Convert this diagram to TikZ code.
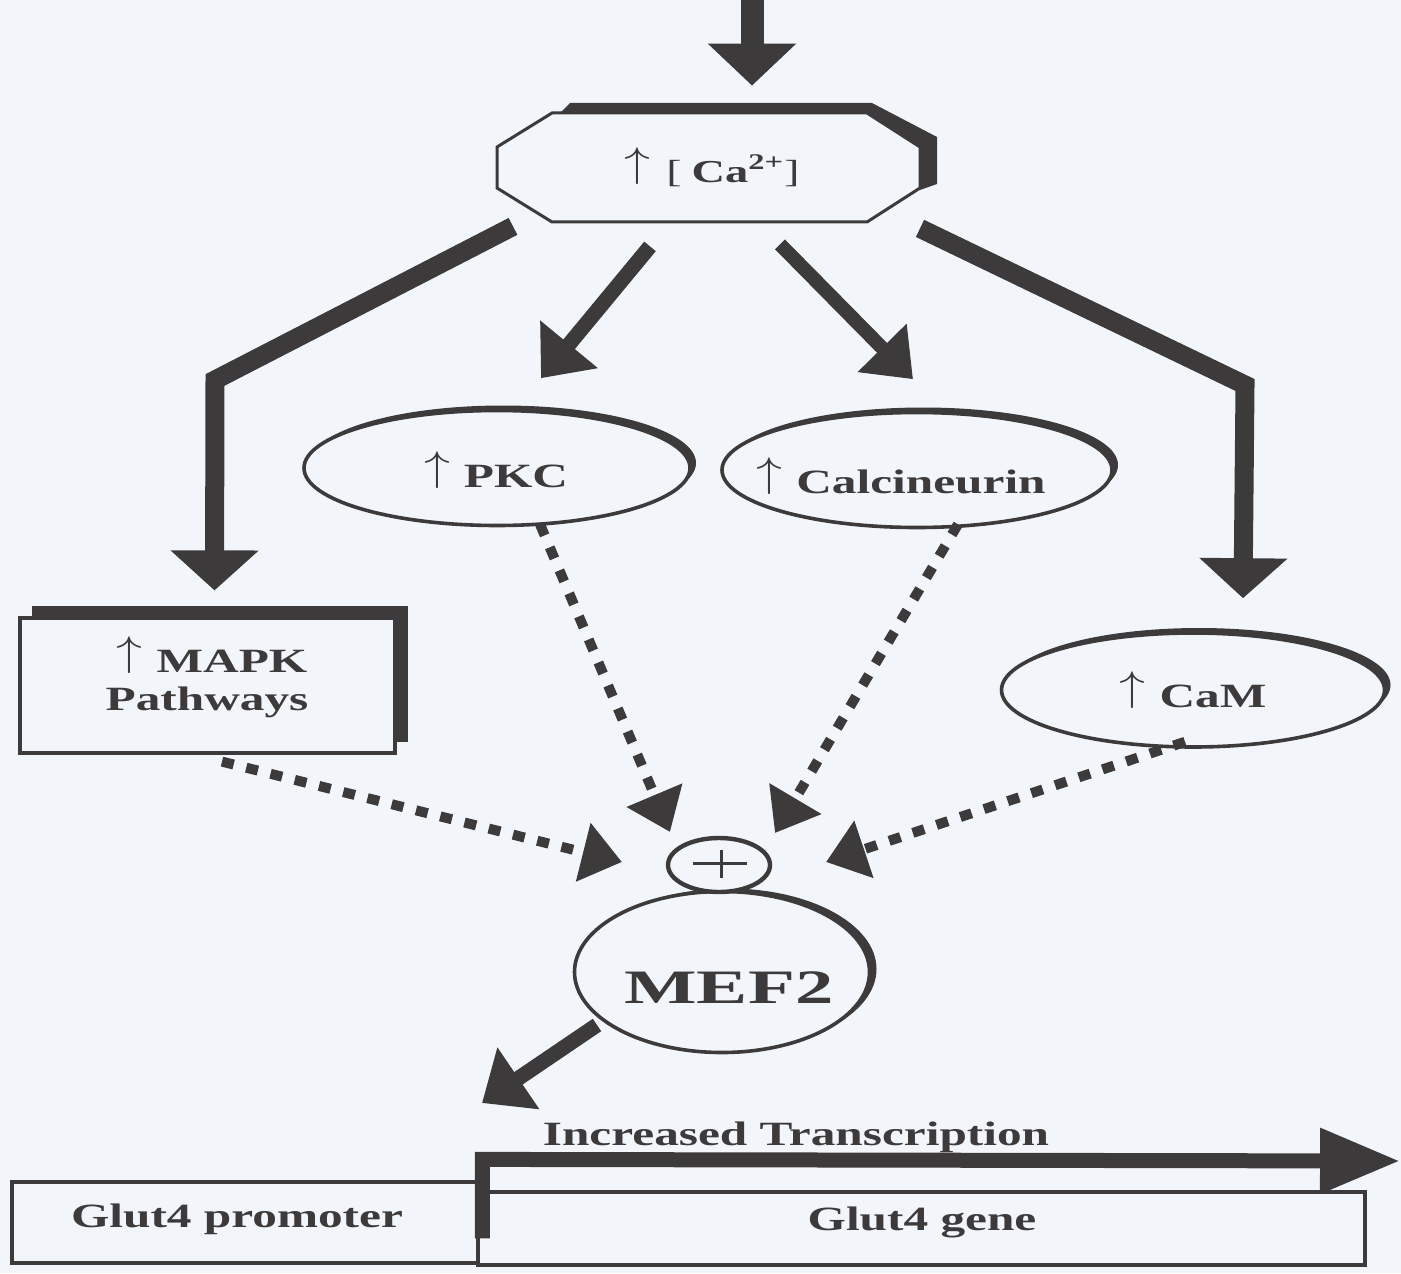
\documentclass[tikz,border=0pt]{standalone}
\usepackage{fontspec}
\setmainfont{Liberation Serif}[FakeStretch=1.45]
\newfontfamily\meffont{Liberation Serif}[FakeStretch=1.6]
\usetikzlibrary{arrows.meta,calc,shapes.geometric}
\definecolor{bg}{RGB}{242,246,251}
\definecolor{ink}{RGB}{60,58,58}
\newcommand\upar[1]{\raisebox{#1}{\scalebox{1.25}[1]{\fontsize{20}{20}\selectfont$\uparrow$}}}
\begin{document}
\begin{tikzpicture}[x=0.5pt,y=-0.5pt,
  lab/.style={text=ink,font=\fontsize{17}{18}\selectfont\bfseries,align=center,inner sep=0pt},
  oval/.style={ellipse,draw=ink,line width=1.8pt,fill=bg,inner sep=0pt},
  box/.style={rectangle,draw=ink,line width=1.6pt,fill=bg,inner sep=0pt},
  bigarrow/.style={draw=ink,line width=9.5pt,line join=miter,-{Triangle[length=20pt,width=43pt]}},
  medarrow/.style={draw=ink,line width=7.5pt,-{Triangle[length=22pt,width=36pt]}},
  dotarrow/.style={draw=ink,line width=5pt,dash pattern=on 6pt off 6.5pt,-{Triangle[length=20pt,width=29pt]}}]
\fill[bg] (0,0) rectangle (1401,1273);
\useasboundingbox (0,0) rectangle (1401,1273);

% ---- Ca box (octagon with shadow)
\fill[ink] (570,103) -- (872,103) -- (937,137) -- (937,184) -- (920,190) -- (920,147) -- (867,113) -- (560,113) -- cycle;
\node[inner sep=0pt,minimum width=211.5pt,minimum height=54.5pt] (ca) at (708.5,167.5) {};
\draw[ink,line width=1.5pt,fill=bg] (552,113) -- (867,113) -- (920,147) -- (920,188) -- (867,222) -- (552,222) -- (497,188) -- (497,147) -- cycle;
\node[lab,font=\fontsize{16}{16}\selectfont\bfseries] (cat) at (712,167) {\upar{3pt}\hspace{8pt}{\mdseries[}\hspace{5pt}Ca\textsuperscript{2+}{\mdseries]}};

% ---- PKC
\fill[ink] (503,463) ellipse [x radius=96.5pt, y radius=28.75pt];
\node[oval,minimum width=193pt,minimum height=57.5pt] (pkc) at (497,468) {};
\node[lab] (pkct) at (496,470) {\upar{3.5pt}\hspace{7pt}PKC};

% ---- Calcineurin
\fill[ink] (923,465) ellipse [x radius=97.5pt, y radius=28.75pt];
\node[oval,minimum width=195pt,minimum height=57.5pt] (calc) at (917,470) {};
\node[lab] (calct) at (901,476) {\upar{3.5pt}\hspace{7pt}Calcineurin};

% ---- CaM
\fill[ink] (1199,685) ellipse [x radius=95.75pt, y radius=28.5pt];
\node[oval,minimum width=191.5pt,minimum height=57pt] (cam) at (1193,690) {};
\node[lab] (camt) at (1193,690) {\upar{3.5pt}\hspace{7pt}CaM};

% ---- MAPK
\fill[ink] (32,606) rectangle (408,742);
\node[box,minimum width=187.5pt,minimum height=67.5pt] (mapk) at (207.5,685.5) {};
\node[lab] (mapkt) at (212,655) {\upar{3.5pt}\hspace{7pt}MAPK};
\node[lab] (mapkt2) at (207,702) {Pathways};

% ---- MEF2 and plus
\fill[ink] (729,969) ellipse [x radius=73.75pt, y radius=40.25pt];
\node[oval,minimum width=147.5pt,minimum height=80.5pt] (mef) at (722,972) {};
\node[text=ink,inner sep=0pt,font=\meffont\fontsize{24}{24}\selectfont\bfseries] (meft) at (729,988) {MEF2};
\node[ellipse,draw=ink,line width=2.2pt,fill=bg,minimum width=51pt,minimum height=27pt,inner sep=0pt] (plus) at (719,865) {};
\draw[ink,line width=1.5pt] ($(plus.center)+(-26,-2)$) -- ($(plus.center)+(28,-2)$);
\draw[ink,line width=1.5pt] ($(plus.center)+(2,-15)$) -- ($(plus.center)+(2,13)$);

% ---- bottom boxes
\node[box,minimum width=443.5pt,minimum height=36.5pt] (gene) at (921.5,1228.5) {};
\node[box,minimum width=233pt,minimum height=40.5pt] (prom) at (245,1222.5) {};
\node[lab] (promt) at (237,1219) {Glut4 promoter};
\node[lab] (genet) at (922,1222) {Glut4 gene};
\node[lab] (incr) at (796,1137) {Increased Transcription};

% ---- arrows from the top
\coordinate (top) at (752,-5);
\draw[ink,line width=11.5pt,-{Triangle[length=21pt,width=43pt]}] (top) -- ($(ca.north)+(43.5,-27)$);

\draw[bigarrow] ($(ca.south)+(-195.5,4)$) -- (215,380) -- ($(mapk.north)+(7,-26)$);
\draw[bigarrow] ($(ca.south)+(211.5,6)$) -- (1245,385) -- ($(cam.north)+(50,-33)$);
\draw[medarrow] ($(ca.south)+(-58.5,24)$) -- ($(pkc.north)+(44,-30.5)$);
\draw[ink,line width=7pt,-{Triangle[length=22pt,width=33pt]}] ($(ca.south)+(71.5,22)$) -- ($(calc.north)+(-4,-31.5)$);

% ---- dotted arrows to MEF2
\draw[dotarrow] ($(mapk.south)+(14.5,7)$) -- ($(plus.center)+(-97,-3)$);
\draw[dotarrow] ($(pkc.south)+(43,-3)$) -- ($(plus.center)+(-49,-33)$);
\draw[dotarrow] ($(calc.south)+(41,-5)$) -- ($(plus.center)+(56,-32)$);
\draw[dotarrow] ($(cam.south)+(-8,-7)$) -- ($(plus.center)+(107,-3)$);

% ---- MEF2 output
\coordinate (mefout) at (482,1103);
\draw[medarrow] ($(mef.center)+(-125,53)$) -- (mefout);

% ---- transcription arrow
\coordinate (tx) at (1400,1161);
\draw[ink,line width=7.5pt,line join=miter,-{Triangle[length=40pt,width=31pt]}] ($(gene.north west)+(6,48)$) -- ($(gene.north west)+(6,-31)$) -- (tx);
\end{tikzpicture}
\end{document}
